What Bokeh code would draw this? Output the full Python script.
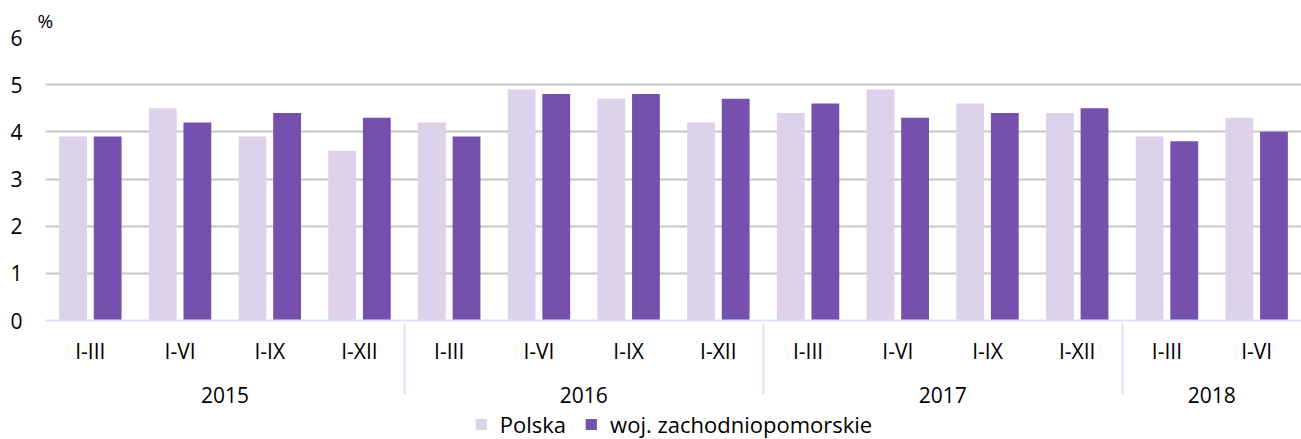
from bokeh.plotting import figure
from bokeh.layouts import column
from bokeh.models import FactorRange, Legend, LegendItem, ColumnDataSource, Range1d
from bokeh.transform import dodge
from bokeh.embed import file_html
from bokeh.resources import INLINE

years = ["2015"] * 4 + ["2016"] * 4 + ["2017"] * 4 + ["2018"] * 2
periods = ["I-III", "I-VI", "I-IX", "I-XII"] * 3 + ["I-III", "I-VI"]
polska = [3.9, 4.5, 3.9, 3.6, 4.2, 4.9, 4.7, 4.2, 4.4, 4.9, 4.6, 4.4, 3.9, 4.3]
zachodniopomorskie = [3.9, 4.2, 4.4, 4.3, 3.9, 4.8, 4.8, 4.7, 4.6, 4.3, 4.4, 4.5, 3.8, 4.0]
series_names = ["Polska", "woj. zachodniopomorskie"]
colors = ["#dcd3ea", "#7550ad"]
y_ticks = [0, 1, 2, 3, 4, 5, 6]
unit_label = "%"

FONT = "Open Sans"
FS = "21px"

# trailing newline on the inner level only adds vertical room between the two label rows
factors = [(y, q + "\n") for y, q in zip(years, periods)]
src = ColumnDataSource(dict(x=factors, polska=polska, zach=zachodniopomorskie))

xr = FactorRange(*factors, range_padding=0, group_padding=0, factor_padding=0)
p = figure(x_range=xr, y_range=(0, 6), width=1301, height=409,
           output_backend="svg", toolbar_location=None, title=unit_label,
           min_border_left=45, min_border_top=37, min_border_right=0,
           min_border_bottom=89)

r1 = p.vbar(x=dodge("x", -0.193, range=p.x_range), top="polska", width=0.31,
            source=src, fill_color=colors[0], line_color=None)
r2 = p.vbar(x=dodge("x", 0.193, range=p.x_range), top="zach", width=0.31,
            source=src, fill_color=colors[1], line_color=None)

p.title.align = "left"
p.title.offset = -8
p.title.standoff = 7
p.title.text_font = FONT
p.title.text_font_size = "19px"
p.title.text_font_style = "normal"
p.title.text_color = "#000000"

p.outline_line_color = None
p.xgrid.grid_line_color = None
p.ygrid.grid_line_color = "#c6c6c6"
p.ygrid.grid_line_width = 2
p.yaxis.ticker = y_ticks
p.yaxis.axis_line_color = None
p.yaxis.major_tick_line_color = None
p.yaxis.minor_tick_line_color = None
p.yaxis.major_label_standoff = 17
p.yaxis.major_label_text_font = FONT
p.yaxis.major_label_text_font_size = FS
p.yaxis.major_label_text_color = "#000000"

xa = p.xaxis[0]
xa.axis_line_color = "#dae3f3"
xa.axis_line_width = 2
xa.major_tick_line_color = None
xa.minor_tick_line_color = None
xa.major_label_standoff = 10
xa.major_label_text_font = FONT
xa.major_label_text_font_size = FS
xa.major_label_text_color = "#000000"
xa.major_label_text_line_height = 0.35
xa.group_text_font = FONT
xa.group_text_font_size = FS
xa.group_text_color = "#000000"
xa.group_text_font_style = "normal"
xa.separator_line_color = "#dae3f3"
xa.separator_line_width = 2

# legend strip under the chart: renderers share the data but are hidden,
# so only the legend swatches show
leg = figure(width=1301, height=30, x_range=xr, y_range=Range1d(-10, -9),
             output_backend="svg", toolbar_location=None, min_border=0)
leg.axis.visible = False
leg.grid.visible = False
leg.outline_line_color = None
s1 = leg.vbar(x="x", top="polska", width=0.31, source=src,
              fill_color=colors[0], line_color=None, visible=False)
s2 = leg.vbar(x="x", top="zach", width=0.31, source=src,
              fill_color=colors[1], line_color=None, visible=False)
legend = Legend(items=[LegendItem(label=series_names[0], renderers=[s1]),
                       LegendItem(label=series_names[1], renderers=[s2])],
                orientation="horizontal", location="center",
                label_text_font=FONT, label_text_font_size="22px",
                label_text_color="#000000",
                glyph_width=14, glyph_height=14, label_standoff=12, spacing=18,
                padding=0, margin=0, border_line_color=None,
                background_fill_alpha=0)
leg.add_layout(legend, "center")

layout = column(p, leg, spacing=0)
open("out.html", "w").write(file_html(layout, INLINE))
